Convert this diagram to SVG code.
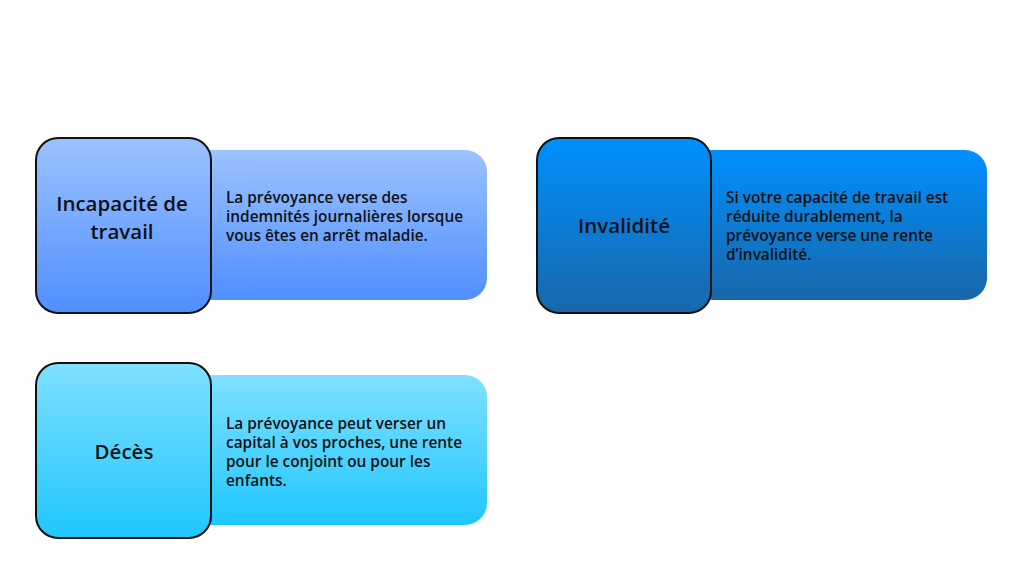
<svg xmlns="http://www.w3.org/2000/svg" width="1024" height="582" viewBox="0 0 1024 582">
<defs>
<linearGradient id="g1" x1="0" y1="0" x2="0" y2="1"><stop offset="0" stop-color="#9cc2ff"/><stop offset="1" stop-color="#4f8ffe"/></linearGradient>
<linearGradient id="g2" x1="0" y1="0" x2="0" y2="1"><stop offset="0" stop-color="#0090fe"/><stop offset="1" stop-color="#1867a9"/></linearGradient>
<linearGradient id="g3" x1="0" y1="0" x2="0" y2="1"><stop offset="0" stop-color="#80e0ff"/><stop offset="1" stop-color="#1fc7ff"/></linearGradient>
<style>
.sq{stroke:#111;stroke-width:2}
.t{font-family:"Open Sans",Lato,sans-serif;font-weight:600;font-size:20.5px;fill:#111;text-anchor:middle}
.d{font-family:"Open Sans",Lato,sans-serif;font-weight:600;font-size:15.4px;fill:#111}
</style>
</defs>
<rect width="1024" height="582" fill="#fff"/>
<g id="node-incapacite">
<rect x="190" y="150" width="297" height="150" rx="22" fill="url(#g1)"/>
<rect class="sq" x="36" y="138" width="175" height="175" rx="22" fill="url(#g1)"/>
<text class="t" x="122" y="211">Incapacité de</text>
<text class="t" x="122" y="239">travail</text>
<text class="d" x="226" y="203">La prévoyance verse des</text>
<text class="d" x="226" y="222">indemnités journalières lorsque</text>
<text class="d" x="226" y="241">vous êtes en arrêt maladie.</text>
</g>
<g id="node-invalidite">
<rect x="690" y="150" width="297" height="150" rx="22" fill="url(#g2)"/>
<rect class="sq" x="537" y="138" width="174" height="175" rx="22" fill="url(#g2)"/>
<text class="t" x="624" y="233">Invalidité</text>
<text class="d" x="726" y="203">Si votre capacité de travail est</text>
<text class="d" x="726" y="222">réduite durablement, la</text>
<text class="d" x="726" y="241">prévoyance verse une rente</text>
<text class="d" x="726" y="260">d’invalidité.</text>
</g>
<g id="node-deces">
<rect x="190" y="375" width="297" height="150" rx="22" fill="url(#g3)"/>
<rect class="sq" x="36" y="363" width="175" height="175" rx="22" fill="url(#g3)"/>
<text class="t" x="124" y="459">Décès</text>
<text class="d" x="226" y="429">La prévoyance peut verser un</text>
<text class="d" x="226" y="448">capital à vos proches, une rente</text>
<text class="d" x="226" y="467">pour le conjoint ou pour les</text>
<text class="d" x="226" y="486">enfants.</text>
</g>
<g id="connectors"/>
</svg>
